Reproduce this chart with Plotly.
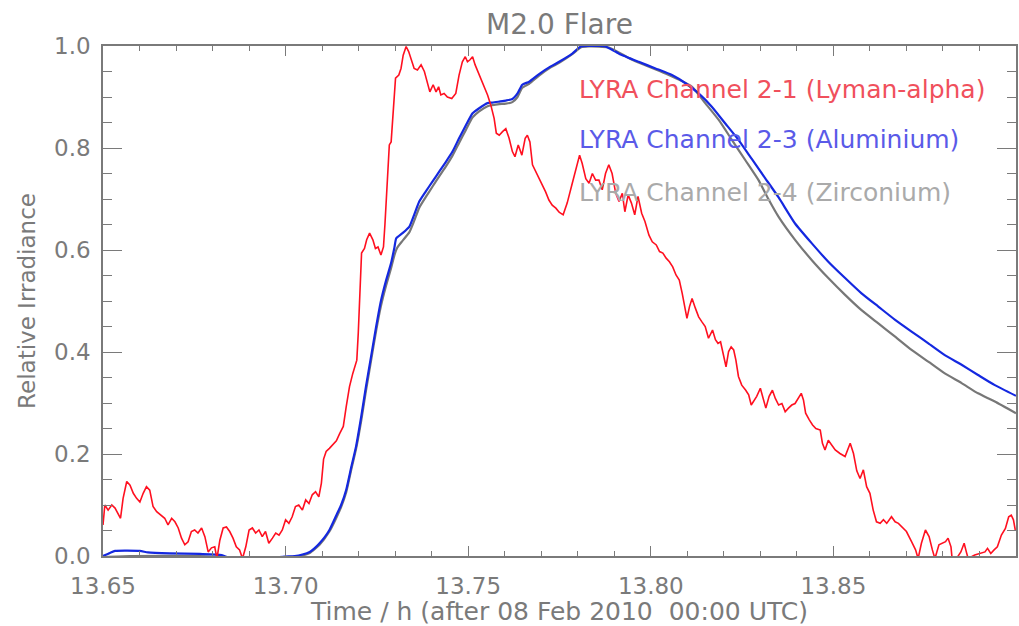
import plotly.graph_objects as go

# ---------------- data ----------------
# LYRA channel 2-1 (Lyman-alpha): time in hours after 08 Feb 2010 00:00 UTC
lya_time = [
    13.6500, 13.6505, 13.6514, 13.6524, 13.6533, 13.6542, 13.6548, 13.6555, 13.6565, 13.6574,
    13.6583, 13.6592, 13.6601, 13.6610, 13.6619, 13.6628, 13.6637, 13.6647, 13.6660, 13.6669,
    13.6678, 13.6688, 13.6697, 13.6706, 13.6715, 13.6724, 13.6733, 13.6742, 13.6751, 13.6760,
    13.6770, 13.6779, 13.6788, 13.6797, 13.6806, 13.6812, 13.6820, 13.6829, 13.6838, 13.6847,
    13.6856, 13.6865, 13.6874, 13.6882, 13.6891, 13.6900, 13.6909, 13.6918, 13.6927, 13.6936,
    13.6945, 13.6954, 13.6964, 13.6973, 13.6982, 13.6991, 13.7000, 13.7009, 13.7018, 13.7027,
    13.7036, 13.7046, 13.7055, 13.7064, 13.7073, 13.7082, 13.7091, 13.7098, 13.7104, 13.7111,
    13.7120, 13.7129, 13.7139, 13.7148, 13.7158, 13.7166, 13.7175, 13.7184, 13.7195, 13.7199,
    13.7204, 13.7208, 13.7216, 13.7222, 13.7230, 13.7239, 13.7246, 13.7253, 13.7261, 13.7268,
    13.7272, 13.7276, 13.7284, 13.7289, 13.7293, 13.7301, 13.7310, 13.7316, 13.7322, 13.7330,
    13.7337, 13.7343, 13.7352, 13.7361, 13.7371, 13.7380, 13.7389, 13.7395, 13.7404, 13.7412,
    13.7419, 13.7425, 13.7434, 13.7443, 13.7455, 13.7466, 13.7475, 13.7484, 13.7492, 13.7498,
    13.7505, 13.7512, 13.7519, 13.7525, 13.7535, 13.7544, 13.7553, 13.7562, 13.7571, 13.7577,
    13.7585, 13.7594, 13.7603, 13.7612, 13.7621, 13.7628, 13.7637, 13.7647, 13.7656, 13.7662,
    13.7669, 13.7676, 13.7685, 13.7694, 13.7703, 13.7712, 13.7721, 13.7730, 13.7740, 13.7749,
    13.7760, 13.7771, 13.7785, 13.7796, 13.7805, 13.7812, 13.7822, 13.7831, 13.7840, 13.7849,
    13.7858, 13.7867, 13.7876, 13.7885, 13.7894, 13.7904, 13.7913, 13.7922, 13.7929, 13.7938,
    13.7947, 13.7956, 13.7965, 13.7975, 13.7984, 13.7995, 13.8004, 13.8015, 13.8024, 13.8033,
    13.8042, 13.8051, 13.8060, 13.8069, 13.8078, 13.8086, 13.8093, 13.8099, 13.8106, 13.8113,
    13.8122, 13.8131, 13.8140, 13.8149, 13.8158, 13.8169, 13.8177, 13.8184, 13.8191, 13.8199,
    13.8206, 13.8213, 13.8220, 13.8227, 13.8233, 13.8240, 13.8249, 13.8260, 13.8268, 13.8275,
    13.8281, 13.8290, 13.8300, 13.8309, 13.8315, 13.8324, 13.8333, 13.8341, 13.8350, 13.8359,
    13.8368, 13.8377, 13.8386, 13.8395, 13.8404, 13.8412, 13.8418, 13.8424, 13.8434, 13.8443,
    13.8452, 13.8464, 13.8470, 13.8477, 13.8486, 13.8495, 13.8505, 13.8518, 13.8532, 13.8546,
    13.8555, 13.8564, 13.8573, 13.8582, 13.8591, 13.8600, 13.8609, 13.8618, 13.8628, 13.8637,
    13.8646, 13.8659, 13.8669, 13.8678, 13.8687, 13.8700, 13.8714, 13.8725, 13.8732, 13.8741,
    13.8752, 13.8762, 13.8771, 13.8778, 13.8789, 13.8798, 13.8807, 13.8814, 13.8822, 13.8825,
    13.8837, 13.8849, 13.8858, 13.8864, 13.8869, 13.8887, 13.8901, 13.8915, 13.8922, 13.8931,
    13.8940, 13.8949, 13.8960, 13.8971, 13.8980, 13.8987, 13.8993, 13.8998,
]
lya_value = [
    0.061, 0.100, 0.090, 0.100, 0.094, 0.080, 0.074, 0.113, 0.146, 0.139,
    0.123, 0.113, 0.106, 0.123, 0.136, 0.129, 0.097, 0.087, 0.080, 0.074,
    0.061, 0.074, 0.067, 0.055, 0.035, 0.022, 0.028, 0.048, 0.051, 0.045,
    0.055, 0.038, 0.008, 0.016, 0.018, -0.005, 0.031, 0.055, 0.057, 0.048,
    0.035, 0.018, 0.012, -0.005, 0.018, 0.051, 0.055, 0.045, 0.051, 0.038,
    0.048, 0.025, 0.035, 0.045, 0.041, 0.051, 0.071, 0.064, 0.077, 0.097,
    0.100, 0.090, 0.110, 0.103, 0.120, 0.126, 0.116, 0.143, 0.190, 0.205,
    0.211, 0.218, 0.226, 0.240, 0.254, 0.293, 0.332, 0.358, 0.384, 0.437,
    0.535, 0.594, 0.603, 0.620, 0.633, 0.620, 0.603, 0.606, 0.590, 0.606,
    0.650, 0.700, 0.806, 0.812, 0.858, 0.937, 0.943, 0.956, 0.982, 0.999,
    0.989, 0.976, 0.956, 0.953, 0.963, 0.950, 0.924, 0.910, 0.924, 0.910,
    0.920, 0.904, 0.907, 0.900, 0.897, 0.907, 0.943, 0.969, 0.979, 0.969,
    0.973, 0.979, 0.963, 0.953, 0.937, 0.920, 0.904, 0.884, 0.858, 0.829,
    0.825, 0.832, 0.838, 0.819, 0.793, 0.783, 0.806, 0.786, 0.819, 0.825,
    0.812, 0.767, 0.754, 0.740, 0.727, 0.714, 0.698, 0.688, 0.682, 0.674,
    0.669, 0.692, 0.731, 0.763, 0.786, 0.770, 0.740, 0.731, 0.750, 0.737,
    0.737, 0.718, 0.750, 0.767, 0.750, 0.711, 0.695, 0.711, 0.675, 0.708,
    0.692, 0.669, 0.705, 0.672, 0.656, 0.629, 0.616, 0.610, 0.597, 0.594,
    0.584, 0.577, 0.567, 0.551, 0.541, 0.515, 0.489, 0.466, 0.489, 0.505,
    0.486, 0.469, 0.459, 0.450, 0.427, 0.443, 0.424, 0.417, 0.420, 0.391,
    0.371, 0.401, 0.410, 0.404, 0.384, 0.352, 0.335, 0.325, 0.316, 0.296,
    0.303, 0.313, 0.329, 0.306, 0.290, 0.313, 0.325, 0.309, 0.296, 0.299,
    0.283, 0.290, 0.296, 0.299, 0.309, 0.319, 0.306, 0.280, 0.267, 0.257,
    0.250, 0.247, 0.221, 0.208, 0.227, 0.218, 0.208, 0.201, 0.195, 0.221,
    0.201, 0.167, 0.152, 0.169, 0.136, 0.123, 0.090, 0.067, 0.064, 0.071,
    0.064, 0.077, 0.067, 0.064, 0.057, 0.048, 0.028, 0.012, -0.005, 0.025,
    0.051, 0.038, 0.012, -0.005, 0.022, 0.025, 0.028, 0.035, 0.018, -0.005,
    -0.005, 0.008, 0.025, 0.008, -0.005, 0.002, 0.005, 0.008, 0.015, 0.005,
    0.012, 0.018, 0.041, 0.054, 0.077, 0.080, 0.071, 0.051,
]

# LYRA channel 2-3 (Aluminium)
al_time = [
    13.6500, 13.6519, 13.6533, 13.6601, 13.6623, 13.6683, 13.6765, 13.6825, 13.6847, 13.6956,
    13.6997, 13.7025, 13.7046, 13.7066, 13.7079, 13.7093, 13.7107, 13.7120, 13.7139, 13.7152,
    13.7166, 13.7180, 13.7193, 13.7207, 13.7220, 13.7234, 13.7248, 13.7261, 13.7275, 13.7289,
    13.7298, 13.7303, 13.7320, 13.7339, 13.7352, 13.7366, 13.7384, 13.7402, 13.7421, 13.7439,
    13.7457, 13.7475, 13.7494, 13.7512, 13.7530, 13.7553, 13.7566, 13.7585, 13.7603, 13.7621,
    13.7635, 13.7648, 13.7667, 13.7694, 13.7726, 13.7749, 13.7785, 13.7808, 13.7831, 13.7858,
    13.7876, 13.7913, 13.7967, 13.8013, 13.8058, 13.8095, 13.8131, 13.8167, 13.8204, 13.8240,
    13.8277, 13.8313, 13.8350, 13.8395, 13.8441, 13.8486, 13.8532, 13.8577, 13.8623, 13.8669,
    13.8714, 13.8760, 13.8805, 13.8851, 13.8896, 13.8942, 13.9000,
]
al_value = [
    0.000, 0.006, 0.010, 0.010, 0.007, 0.005, 0.004, 0.002, -0.004, -0.004,
    -0.001, 0.000, 0.003, 0.008, 0.015, 0.025, 0.037, 0.051, 0.080, 0.100,
    0.130, 0.175, 0.215, 0.273, 0.332, 0.391, 0.450, 0.500, 0.540, 0.575,
    0.605, 0.623, 0.633, 0.646, 0.669, 0.695, 0.715, 0.734, 0.754, 0.773,
    0.793, 0.819, 0.845, 0.868, 0.878, 0.888, 0.889, 0.891, 0.893, 0.896,
    0.907, 0.924, 0.930, 0.945, 0.960, 0.969, 0.985, 0.999, 1.000, 1.000,
    0.999, 0.985, 0.969, 0.956, 0.943, 0.927, 0.907, 0.881, 0.848, 0.816,
    0.778, 0.741, 0.703, 0.652, 0.613, 0.577, 0.545, 0.515, 0.489, 0.463,
    0.440, 0.417, 0.394, 0.375, 0.355, 0.335, 0.314,
]

# LYRA channel 2-4 (Zirconium)
zr_time = [
    13.6500, 13.6574, 13.6765, 13.6847, 13.6984, 13.7025, 13.7046, 13.7066, 13.7093, 13.7120,
    13.7139, 13.7152, 13.7166, 13.7180, 13.7193, 13.7207, 13.7220, 13.7234, 13.7248, 13.7261,
    13.7275, 13.7289, 13.7298, 13.7306, 13.7320, 13.7339, 13.7352, 13.7366, 13.7384, 13.7402,
    13.7421, 13.7439, 13.7457, 13.7475, 13.7494, 13.7512, 13.7530, 13.7553, 13.7566, 13.7585,
    13.7603, 13.7621, 13.7635, 13.7648, 13.7667, 13.7694, 13.7726, 13.7749, 13.7785, 13.7808,
    13.7831, 13.7885, 13.7949, 13.8040, 13.8113, 13.8149, 13.8186, 13.8222, 13.8259, 13.8295,
    13.8322, 13.8350, 13.8395, 13.8441, 13.8486, 13.8532, 13.8577, 13.8623, 13.8669, 13.8714,
    13.8760, 13.8805, 13.8851, 13.8896, 13.8942, 13.9000,
]
zr_value = [
    -0.002, 0.000, 0.000, -0.004, -0.003, -0.001, 0.001, 0.006, 0.022, 0.048,
    0.075, 0.096, 0.125, 0.170, 0.210, 0.265, 0.324, 0.383, 0.442, 0.490,
    0.530, 0.565, 0.590, 0.605, 0.618, 0.635, 0.657, 0.683, 0.704, 0.724,
    0.745, 0.764, 0.785, 0.810, 0.836, 0.860, 0.872, 0.882, 0.884, 0.886,
    0.887, 0.890, 0.900, 0.918, 0.926, 0.942, 0.958, 0.967, 0.984, 0.997,
    0.999, 0.997, 0.973, 0.946, 0.920, 0.888, 0.855, 0.816, 0.776, 0.737,
    0.700, 0.665, 0.620, 0.580, 0.545, 0.512, 0.482, 0.456, 0.430, 0.404,
    0.381, 0.358, 0.339, 0.319, 0.303, 0.280,
]

x_tickvals = [13.65, 13.70, 13.75, 13.80, 13.85]
series_names = [
    "LYRA Channel 2-1 (Lyman-alpha)",
    "LYRA Channel 2-3 (Aluminium)",
    "LYRA Channel 2-4 (Zirconium)",
]

# ---------------- figure ----------------
FONT = "DejaVu Sans"
AXC = "#7a7a7a"

fig = go.Figure()
fig.add_trace(go.Scatter(x=zr_time, y=zr_value, mode="lines", name=series_names[2],
                         line=dict(color="#777777", width=2.2, shape="spline", smoothing=0.5)))
fig.add_trace(go.Scatter(x=al_time, y=al_value, mode="lines", name=series_names[1],
                         line=dict(color="#1428e0", width=2.2, shape="spline", smoothing=0.5)))
fig.add_trace(go.Scatter(x=lya_time, y=lya_value, mode="lines", name=series_names[0],
                         line=dict(color="#ff1020", width=1.6)))

legend_colors = ["#f0505c", "#5a5ae8", "#aaaaaa"]
legend_y = [0.914, 0.816, 0.712]
for name, col, yy in zip(series_names, legend_colors, legend_y):
    fig.add_annotation(text=name, xref="paper", yref="paper", x=0.519, y=yy,
                       xanchor="left", yanchor="middle", showarrow=False,
                       font=dict(family=FONT, size=25, color=col))

axis_common = dict(
    showline=True, linecolor=AXC, linewidth=1.5, mirror="ticks",
    ticks="inside", tickcolor=AXC, tickwidth=1.3,
    showgrid=False, zeroline=False,
    tickfont=dict(family=FONT, size=23, color=AXC),
)

fig.update_layout(
    width=1019, height=626,
    margin=dict(l=103, r=1, t=46, b=70),
    paper_bgcolor="white", plot_bgcolor="white",
    showlegend=False,
    title=dict(text="M2.0 Flare", x=0.5, xanchor="center", xref="paper",
               y=1 - 24 / 626, yref="container", yanchor="middle",
               font=dict(family=FONT, size=28, color=AXC)),
    xaxis=dict(
        range=[13.65, 13.90], tickmode="array", tickvals=x_tickvals, tickformat=".2f",
        ticklen=10, ticklabelstandoff=9,
        minor=dict(ticks="inside", ticklen=5, dtick=0.01, tick0=13.65,
                   tickcolor=AXC, tickwidth=1.3, showgrid=False),
        title=dict(text="Time / h (after 08 Feb 2010\u00a0 00:00 UTC)", standoff=8,
                   font=dict(family=FONT, size=25, color=AXC)),
        **axis_common,
    ),
    yaxis=dict(
        range=[0, 1.0], dtick=0.2, tick0=0, tickformat=".1f",
        ticklen=19, ticklabelstandoff=6,
        minor=dict(ticks="inside", ticklen=9, dtick=0.05, tick0=0,
                   tickcolor=AXC, tickwidth=1.3, showgrid=False),
        title=dict(text="Relative Irradiance", standoff=12,
                   font=dict(family=FONT, size=23, color=AXC)),
        **axis_common,
    ),
)

fig.write_html("out.html")
